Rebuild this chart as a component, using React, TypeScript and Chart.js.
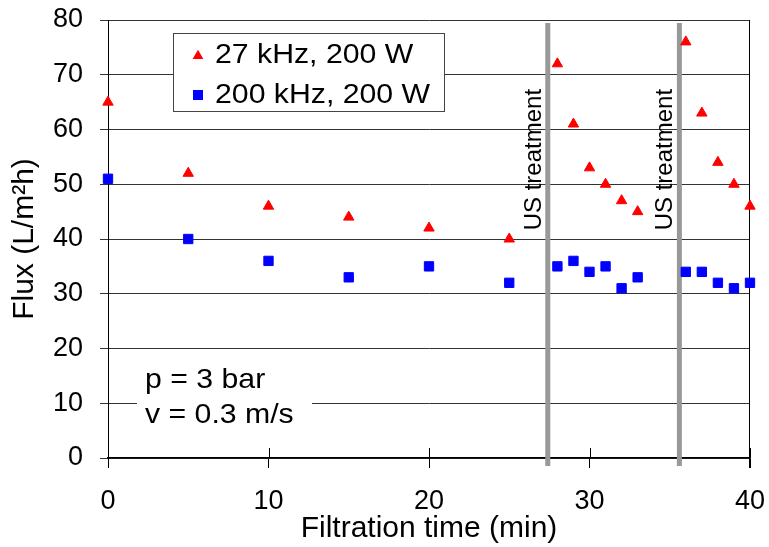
import React, { useEffect, useRef } from "react";
import { Chart, registerables } from "chart.js";

Chart.register(...registerables);

// ---- data ----
const times27 = [0, 5, 10, 15, 20, 25, 28, 29, 30, 31, 32, 33, 36, 37, 38, 39, 40];
const flux27 = [65, 52, 46, 44, 42, 40, 72, 61, 53, 50, 47, 45, 76, 63, 54, 50, 46];
const times200 = [0, 5, 10, 15, 20, 25, 28, 29, 30, 31, 32, 33, 36, 37, 38, 39, 40];
const flux200 = [51, 40, 36, 33, 35, 32, 35, 36, 34, 35, 31, 33, 34, 34, 32, 31, 32];
const seriesLabels = ["27 kHz, 200 W", "200 kHz, 200 W"];
const treatmentTimes = [27.4, 35.6];
const treatmentLabel = "US treatment";
const treatmentLabelY = 54.5;
const noteLines = ["p = 3 bar", "v = 0.3 m/s"];
const xTicks = [0, 10, 20, 30, 40];
const yTicks = [0, 10, 20, 30, 40, 50, 60, 70, 80];
const xTitle = "Filtration time (min)";
const yTitle = "Flux (L/m\u00B2h)";

const FONT = '"Liberation Sans", Arial, sans-serif';
const RED = "#FF0000";
const BLUE = "#0000FF";

function drawTriangle(ctx: CanvasRenderingContext2D, x: number, y: number, r: number) {
  ctx.beginPath();
  let a = 0;
  for (let i = 0; i < 3; i++) {
    const px = x + Math.sin(a) * r;
    const py = y - Math.cos(a) * r;
    if (i === 0) ctx.moveTo(px, py);
    else ctx.lineTo(px, py);
    a += (2 * Math.PI) / 3;
  }
  ctx.closePath();
  ctx.fill();
}

function wideText(ctx: CanvasRenderingContext2D, text: string, x: number, y: number, sx: number) {
  ctx.save();
  ctx.translate(x, y);
  ctx.scale(sx, 1);
  ctx.fillText(text, 0, 0);
  ctx.restore();
}

const overlay = {
  id: "overlay",
  beforeDatasetsDraw(chart: any) {
    const { ctx, chartArea, scales } = chart;
    const xs = scales.x;
    const ys = scales.y;
    ctx.save();

    // upper halves of x tick marks
    ctx.strokeStyle = "#000";
    ctx.lineWidth = 1;
    for (const t of xTicks) {
      const px = Math.round(xs.getPixelForValue(t)) + 0.5;
      ctx.beginPath();
      ctx.moveTo(px, chartArea.bottom - 10);
      ctx.lineTo(px, chartArea.bottom);
      ctx.stroke();
    }
    // right border
    const rx = Math.round(chartArea.right) - 0.5;
    ctx.beginPath();
    ctx.moveTo(rx, chartArea.top);
    ctx.lineTo(rx, chartArea.bottom + 10);
    ctx.stroke();

    // treatment lines
    ctx.strokeStyle = "#999999";
    ctx.lineWidth = 5;
    for (const t of treatmentTimes) {
      const px = xs.getPixelForValue(t);
      ctx.beginPath();
      ctx.moveTo(px, chartArea.top + 3);
      ctx.lineTo(px, chartArea.bottom + 8);
      ctx.stroke();
    }
    // treatment labels
    ctx.fillStyle = "#000";
    ctx.font = "24px " + FONT;
    ctx.textAlign = "center";
    ctx.textBaseline = "alphabetic";
    for (const t of treatmentTimes) {
      const px = xs.getPixelForValue(t);
      const py = ys.getPixelForValue(treatmentLabelY);
      ctx.save();
      ctx.translate(px - 7, py);
      ctx.rotate(-Math.PI / 2);
      ctx.fillText(treatmentLabel, 0, 0);
      ctx.restore();
    }

    // notes
    const L = chartArea.left;
    const T = chartArea.top;
    ctx.fillStyle = "#fff";
    ctx.fillRect(L + 29, 360, 175, 72);
    ctx.fillStyle = "#000";
    ctx.font = "28px " + FONT;
    ctx.textAlign = "left";
    wideText(ctx, noteLines[0], L + 37, 388, 1.08);
    wideText(ctx, noteLines[1], L + 37, 423, 1.08);

    // legend
    ctx.fillStyle = "#fff";
    ctx.fillRect(L + 65, T + 13, 271, 78);
    ctx.strokeStyle = "#444";
    ctx.lineWidth = 1;
    ctx.strokeRect(L + 65.5, T + 13.5, 271, 78);
    ctx.fillStyle = RED;
    drawTriangle(ctx, L + 90, T + 36, 6.2);
    ctx.fillStyle = BLUE;
    ctx.fillRect(L + 85, T + 70, 10, 10);
    ctx.fillStyle = "#000";
    ctx.font = "28px " + FONT;
    wideText(ctx, seriesLabels[0], L + 107, T + 43, 1.08);
    wideText(ctx, seriesLabels[1], L + 107, T + 83, 1.08);

    ctx.restore();
  },
};

export default function App() {
  const ref = useRef<HTMLCanvasElement | null>(null);
  useEffect(() => {
    document.body.style.margin = "0";
    const canvas = ref.current!;
    const chart = new Chart(canvas, {
      type: "scatter",
      data: {
        datasets: [
          {
            label: seriesLabels[1],
            data: times200.map((x, i) => ({ x, y: flux200[i] })),
            backgroundColor: BLUE,
            borderColor: BLUE,
            pointStyle: "rect",
            pointRadius: 6.6,
            borderWidth: 1,
            clip: false,
          },
          {
            label: seriesLabels[0],
            data: times27.map((x, i) => ({ x, y: flux27[i] })),
            backgroundColor: RED,
            borderColor: RED,
            pointStyle: "triangle",
            pointRadius: 6,
            borderWidth: 1,
            clip: false,
          },
        ],
      },
      options: {
        responsive: false,
        animation: false,
        events: [],
        layout: { padding: { top: 20, right: 19, left: 0, bottom: 0 } },
        plugins: { legend: { display: false }, tooltip: { enabled: false } },
        scales: {
          x: {
            type: "linear",
            min: 0,
            max: 40,
            afterFit: (s: any) => {
              s.height = 89;
              s.paddingLeft = 0;
              s.paddingRight = 0;
              s.paddingTop = 0;
              s.paddingBottom = 0;
            },
            afterBuildTicks: (s: any) => {
              s.ticks = xTicks.map((v) => ({ value: v }));
            },
            grid: { display: true, drawOnChartArea: false, drawTicks: true, tickLength: 10, color: "#000" },
            border: { display: true, color: "#000", width: 1.5 },
            ticks: { color: "#000", font: { family: FONT, size: 27 }, padding: 17.5, maxRotation: 0 },
            title: {
              display: true,
              text: xTitle,
              color: "#000",
              font: { family: FONT, size: 30 },
              padding: { top: 0, bottom: 0 },
            },
          },
          y: {
            type: "linear",
            min: 0,
            max: 80,
            afterFit: (s: any) => {
              s.width = 108;
              s.paddingLeft = 0;
              s.paddingRight = 0;
              s.paddingTop = 0;
              s.paddingBottom = 0;
            },
            afterBuildTicks: (s: any) => {
              s.ticks = yTicks.map((v) => ({ value: v }));
            },
            grid: { display: true, color: "#333", lineWidth: 1, drawTicks: true, tickLength: 8 },
            border: { display: true, color: "#000", width: 1 },
            ticks: { color: "#000", font: { family: FONT, size: 27 }, padding: 17 },
            title: {
              display: true,
              text: yTitle,
              color: "#000",
              font: { family: FONT, size: 30 },
              padding: { top: 7, bottom: 0 },
            },
          },
        },
      },
      plugins: [overlay],
    });
    return () => chart.destroy();
  }, []);
  return (
    <div style={{ position: "fixed", left: 0, top: 0, width: 769, height: 547, background: "#fff" }}>
      <canvas ref={ref} width={769} height={547} style={{ width: 769, height: 547, display: "block" }} />
    </div>
  );
}
